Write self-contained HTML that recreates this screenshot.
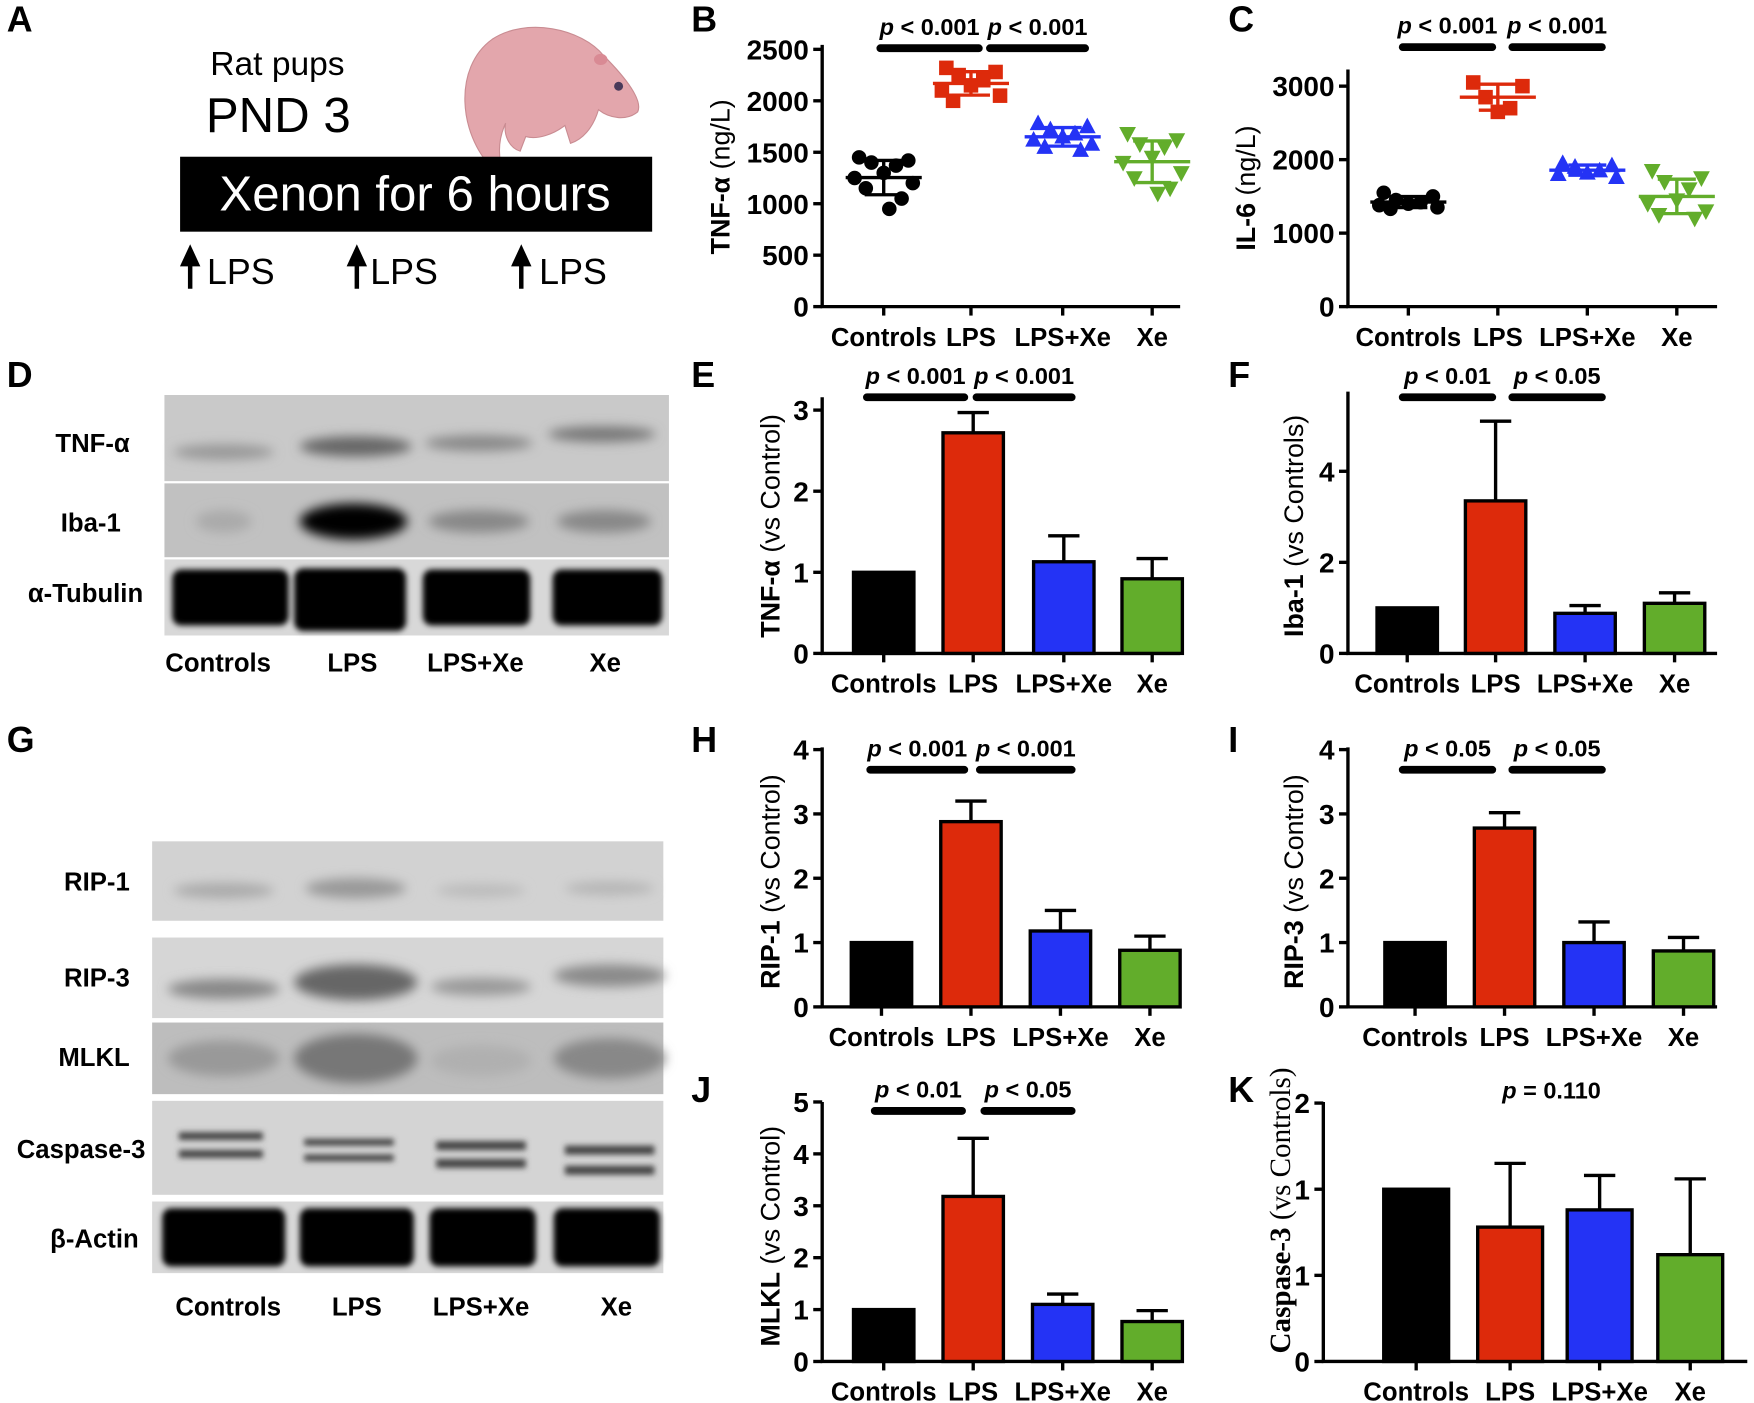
<!DOCTYPE html>
<html><head><meta charset="utf-8"><style>
html,body{margin:0;padding:0;background:#fff}
svg{display:block}
text{font-family:"Liberation Sans Narrow","Liberation Sans",sans-serif;font-weight:bold}
.n{font-weight:normal}
</style></head><body>
<svg id="fig" width="1754" height="1403" viewBox="0 0 1568 1254" xmlns="http://www.w3.org/2000/svg">
<defs>
<filter id="bl" x="-30%" y="-80%" width="160%" height="260%"><feGaussianBlur stdDeviation="5"/></filter>
<filter id="bl2" x="-30%" y="-80%" width="160%" height="260%"><feGaussianBlur stdDeviation="2.5"/></filter>
</defs>
<g>
<text x="6" y="28" font-size="32">A</text>
<text x="188" y="67" font-size="30" class="n">Rat pups</text>
<text x="184" y="118" font-size="44" class="n">PND 3</text>
<g>
<path d="M440,150 C410,120 405,60 440,35 C470,15 520,25 540,50 C560,70 575,90 570,100 C560,108 545,106 535,98 C530,115 520,125 510,128 L505,112 C495,120 480,125 470,122 L465,135 C455,132 450,120 452,110 C445,125 445,140 450,155 Z" fill="#e3a6ac" stroke="#c98c92" stroke-width="1"/>
<circle cx="553" cy="77" r="4" fill="#4a3a5a"/>
<ellipse cx="537" cy="53" rx="6" ry="5" fill="#d98a94"/>
</g>
<rect x="161" y="140" width="422" height="67" fill="#000"/>
<text x="371" y="188" font-size="44" fill="#fff" text-anchor="middle" class="n">Xenon for 6 hours</text>
<g font-size="32">
<path d="M170,258 V232 M164,236 L170,223 L176,236 Z" stroke="#000" stroke-width="4" fill="#000"/>
<text x="185" y="254" class="n">LPS</text>
<path d="M319,258 V232 M313,236 L319,223 L325,236 Z" stroke="#000" stroke-width="4" fill="#000"/>
<text x="331" y="254" class="n">LPS</text>
<path d="M466,258 V232 M460,236 L466,223 L472,236 Z" stroke="#000" stroke-width="4" fill="#000"/>
<text x="482" y="254" class="n">LPS</text>
</g>
</g>
<g>
<text x="6" y="346" font-size="32">D</text>
<rect x="147" y="353" width="451" height="77" fill="#c9c9c9"/>
<rect x="147" y="432" width="451" height="66" fill="#c1c1c1"/>
<rect x="147" y="500" width="451" height="68" fill="#d8d8d8"/>
<g filter="url(#bl)">
<ellipse cx="200" cy="404" rx="45" ry="7" fill="#999"/>
<ellipse cx="318" cy="399" rx="50" ry="9" fill="#666"/>
<ellipse cx="428" cy="396" rx="48" ry="7" fill="#888"/>
<ellipse cx="538" cy="388" rx="48" ry="7" fill="#777"/>
<ellipse cx="200" cy="466" rx="25" ry="10" fill="#aaa"/>
<ellipse cx="316" cy="466" rx="48" ry="16" fill="#000"/>
<ellipse cx="428" cy="466" rx="45" ry="10" fill="#888"/>
<ellipse cx="540" cy="466" rx="42" ry="10" fill="#888"/>
</g>
<g filter="url(#bl2)" fill="#050505">
<rect x="154" y="509" width="104" height="50" rx="8"/>
<rect x="263" y="508" width="100" height="56" rx="8"/>
<rect x="378" y="509" width="96" height="50" rx="8"/>
<rect x="494" y="509" width="98" height="50" rx="8"/>
</g>
<text x="116" y="404" font-size="23" text-anchor="end">TNF-α</text>
<text x="108" y="475" font-size="23" text-anchor="end">Iba-1</text>
<text x="128" y="538" font-size="23" text-anchor="end">α-Tubulin</text>
<g font-size="23" text-anchor="middle">
<text x="195" y="600">Controls</text><text x="315" y="600">LPS</text><text x="425" y="600">LPS+Xe</text><text x="541" y="600">Xe</text>
</g>
</g>
<g>
<text x="6" y="672" font-size="32">G</text>
<rect x="136" y="752" width="457" height="71" fill="#d2d2d2"/>
<rect x="136" y="838" width="457" height="72" fill="#d6d6d6"/>
<rect x="136" y="914" width="457" height="64" fill="#bdbdbd"/>
<rect x="136" y="984" width="457" height="84" fill="#d4d4d4"/>
<rect x="136" y="1074" width="457" height="64" fill="#d8d8d8"/>
<g filter="url(#bl)">
<ellipse cx="200" cy="796" rx="45" ry="7" fill="#aaa"/>
<ellipse cx="318" cy="794" rx="45" ry="9" fill="#999"/>
<ellipse cx="430" cy="796" rx="40" ry="6" fill="#bbb"/>
<ellipse cx="545" cy="794" rx="40" ry="6" fill="#b5b5b5"/>
<ellipse cx="200" cy="884" rx="50" ry="9" fill="#888"/>
<ellipse cx="318" cy="878" rx="55" ry="16" fill="#666"/>
<ellipse cx="430" cy="882" rx="45" ry="8" fill="#999"/>
<ellipse cx="545" cy="872" rx="50" ry="10" fill="#8a8a8a"/>
<ellipse cx="200" cy="946" rx="50" ry="16" fill="#999"/>
<ellipse cx="318" cy="946" rx="55" ry="22" fill="#777"/>
<ellipse cx="430" cy="948" rx="45" ry="14" fill="#b0b0b0"/>
<ellipse cx="545" cy="946" rx="50" ry="18" fill="#888"/>
</g>
<g filter="url(#bl2)" fill="#444">
<rect x="160" y="1012" width="75" height="7"/><rect x="160" y="1028" width="75" height="7"/>
<rect x="272" y="1018" width="80" height="6"/><rect x="272" y="1032" width="80" height="6"/>
<rect x="390" y="1020" width="80" height="8"/><rect x="390" y="1036" width="80" height="8"/>
<rect x="505" y="1024" width="80" height="8"/><rect x="505" y="1042" width="80" height="8"/>
</g>
<g filter="url(#bl2)" fill="#050505">
<rect x="145" y="1080" width="110" height="52" rx="8"/>
<rect x="268" y="1080" width="102" height="52" rx="8"/>
<rect x="384" y="1080" width="95" height="52" rx="8"/>
<rect x="495" y="1080" width="95" height="52" rx="8"/>
</g>
<g font-size="23" text-anchor="end">
<text x="116" y="796">RIP-1</text>
<text x="116" y="882">RIP-3</text>
<text x="116" y="953">MLKL</text>
<text x="130" y="1035">Caspase-3</text>
<text x="124" y="1115">β-Actin</text>
</g>
<g font-size="23" text-anchor="middle">
<text x="204" y="1176">Controls</text><text x="319" y="1176">LPS</text><text x="430" y="1176">LPS+Xe</text><text x="551" y="1176">Xe</text>
</g>
</g>
<g id="charts"></g>
</svg>
<script>
const categories = ["Controls","LPS","LPS+Xe","Xe"];
const colors = ["#000000","#dd2a0b","#2433f5","#62ad2b"];
const bControls = [1450,1420,1400,1370,1300,1250,1200,1150,1050,950];
const bLPS = [2320,2280,2250,2200,2150,2100,2050,2000];
const bLPSXe = [1780,1750,1720,1680,1650,1620,1580,1550,1520];
const bXe = [1680,1620,1580,1550,1450,1400,1300,1250,1150,1100];
const bTicks = [0,500,1000,1500,2000,2500];
const cControls = [1550,1500,1450,1420,1400,1380,1350,1330];
const cLPS = [3050,3000,2850,2700,2650];
const cLPSXe = [1950,1920,1900,1850,1820,1800,1760];
const cXe = [1850,1750,1700,1600,1450,1400,1300,1250,1200];
const cTicks = [0,1000,2000,3000];
const eMeans = [1.0,2.72,1.13,0.92]; const eErr = [1.0,2.97,1.45,1.17]; const eTicks=[0,1,2,3];
const fMeans = [1.0,3.35,0.88,1.1]; const fErr = [1.0,5.1,1.05,1.33]; const fTicks=[0,2,4];
const hMeans = [1.0,2.88,1.18,0.88]; const hErr = [1.0,3.2,1.5,1.1]; const hTicks=[0,1,2,3,4];
const iMeans = [1.0,2.78,1.0,0.87]; const iErr = [1.0,3.02,1.32,1.08]; const iTicks=[0,1,2,3,4];
const jMeans = [1.0,3.18,1.1,0.77]; const jErr = [1.0,4.3,1.3,0.98]; const jTicks=[0,1,2,3,4,5];
const kMeans = [1.0,0.78,0.88,0.62]; const kErr = [1.0,1.15,1.08,1.06]; const kTicks=[0,0.5,1,1.5]; const kTickLabels=["0","1","1","2"];

const NS="http://www.w3.org/2000/svg";
const root=document.getElementById('charts');
function mk(tag,attrs,parent){const e=document.createElementNS(NS,tag);for(const k in attrs)e.setAttribute(k,attrs[k]);(parent||root).appendChild(e);return e;}

function axes(g,cfg){
  const y=v=>cfg.y0-v*cfg.ppu;
  const ax=mk('path',{d:`M${cfg.x0},${cfg.top} V${cfg.y0} H${cfg.xEnd}`,stroke:'#000','stroke-width':3,fill:'none'},g);
  
  
  cfg.ticks.forEach((t,i)=>{
    mk('line',{x1:cfg.x0-8,x2:cfg.x0,y1:y(t),y2:y(t),stroke:'#000','stroke-width':3},g);
    const tl=mk('text',{x:cfg.x0-12,y:y(t)+9,'font-size':25,'text-anchor':'end'},g);
    tl.textContent=cfg.tickLabels?cfg.tickLabels[i]:String(t);
    
    
  });
  categories.forEach((c,i)=>{
    const x=cfg.cx[i];
    mk('line',{x1:x,x2:x,y1:cfg.y0,y2:cfg.y0+8,stroke:'#000','stroke-width':3},g);
    const t=mk('text',{x:x,y:cfg.y0+35,'font-size':23,'text-anchor':'middle'},g);
    t.textContent=c;
    
    
  });
  const yt=mk('text',{transform:`translate(${cfg.titleX},${cfg.titleY}) rotate(-90)`,'font-size':cfg.titleSize||24,'text-anchor':'middle'},g);
  
  
  if(cfg.serif){yt.setAttribute('style','font-family:"Liberation Serif",serif');}
  const s1=mk('tspan',{},yt);s1.textContent=cfg.title[0];
  const s2=mk('tspan',{class:'n'},yt);s2.textContent=cfg.title[1];
  const pl=mk('text',{x:cfg.labelX,y:cfg.labelY,'font-size':32},g);
  pl.textContent=cfg.label;
  
  
  (cfg.sig||[]).forEach(s=>{
    const ln=mk('line',{x1:s[0],x2:s[1],y1:cfg.sigY,y2:cfg.sigY,stroke:'#000','stroke-width':7,'stroke-linecap':'round'},g);
    
    
    const t=mk('text',{x:(s[0]+s[1])/2,y:cfg.sigY-12,'font-size':21,'text-anchor':'middle'},g);
    
    
    const a=mk('tspan',{'font-style':'italic'},t);a.textContent='p';
    const b=mk('tspan',{},t);b.textContent=' '+s[2];
  });
  return y;
}

function barChart(cfg,means,errs){
  const g=mk('g',{});
  
  
  const y=axes(g,cfg);
  const w=cfg.bw||54;
  means.forEach((m,i)=>{
    const x=cfg.cx[i];
    if(errs[i]>m){
      mk('path',{d:`M${x},${y(m)} V${y(errs[i])} M${x-14},${y(errs[i])} H${x+14}`,stroke:'#000','stroke-width':3,fill:'none'},g);
    }
    const r=mk('rect',{x:x-w/2,y:y(m),width:w,height:cfg.y0-y(m),fill:colors[i],stroke:'#000','stroke-width':3},g);
    
    
  });
}

function mean(a){return a.reduce((s,v)=>s+v,0)/a.length;}
function sd(a){const m=mean(a);return Math.sqrt(a.reduce((s,v)=>s+(v-m)*(v-m),0)/(a.length-1));}
function marker(g,shape,x,yy,c){
  let e;
  if(shape===0) e=mk('circle',{cx:x,cy:yy,r:6.5,fill:c},g);
  else if(shape===1) e=mk('rect',{x:x-6.5,y:yy-6.5,width:13,height:13,fill:c},g);
  else if(shape===2) e=mk('path',{d:`M${x},${yy-8} L${x+7.5},${yy+6} L${x-7.5},${yy+6} Z`,fill:c},g);
  else e=mk('path',{d:`M${x},${yy+8} L${x+7.5},${yy-6} L${x-7.5},${yy-6} Z`,fill:c},g);
  
  
}
function scatterChart(cfg,groups){
  const g=mk('g',{});
  
  
  const y=axes(g,cfg);
  const offs=[-22,22,-11,11,0,-26,26,-16,16,5];
  groups.forEach((arr,i)=>{
    const x=cfg.cx[i];
    arr.forEach((v,j)=>marker(g,i,x+offs[j%offs.length],y(v),colors[i]));
    const m=mean(arr),s=sd(arr);
    mk('path',{d:`M${x-34},${y(m)} H${x+34} M${x},${y(m+s)} V${y(m-s)} M${x-17},${y(m+s)} H${x+17} M${x-17},${y(m-s)} H${x+17}`,stroke:colors[i],'stroke-width':3,fill:'none'},g);
  });
}

scatterChart({id:'b',label:'B',labelX:618,labelY:28,x0:735,xEnd:1055,top:40,y0:274,ppu:0.092,ticks:bTicks,cx:[790,868,950,1030],
  title:['TNF-α',' (ng/L)'],titleX:652,titleY:158,sig:[[787,875,'< 0.001'],[885,970,'< 0.001']],sigY:43},[bControls,bLPS,bLPSXe,bXe]);
scatterChart({id:'c',label:'C',labelX:1098,labelY:28,x0:1205,xEnd:1535,top:62,y0:274,ppu:0.0657,ticks:cTicks,cx:[1259,1339,1419,1499],
  title:['IL-6',' (ng/L)'],titleX:1122,titleY:168,sig:[[1254,1334,'< 0.001'],[1352,1432,'< 0.001']],sigY:42},[cControls,cLPS,cLPSXe,cXe]);
barChart({id:'e',label:'E',labelX:618,labelY:346,x0:735,xEnd:1055,top:355,y0:584,ppu:72.5,ticks:eTicks,cx:[790,870,951,1030],
  title:['TNF-α',' (vs Control)'],titleX:697,titleY:470,sig:[[775,862,'< 0.001'],[873,958,'< 0.001']],sigY:355},eMeans,eErr);
barChart({id:'f',label:'F',labelX:1098,labelY:346,x0:1205,xEnd:1535,top:350,y0:584,ppu:40.7,ticks:fTicks,cx:[1258,1337,1417,1497],
  title:['Iba-1',' (vs Controls)'],titleX:1165,titleY:470,sig:[[1254,1334,'< 0.01'],[1352,1432,'< 0.05']],sigY:355},fMeans,fErr);
barChart({id:'h',label:'H',labelX:618,labelY:672,x0:735,xEnd:1055,top:668,y0:900,ppu:57.5,ticks:hTicks,cx:[788,868,948,1028],
  title:['RIP-1',' (vs Control)'],titleX:697,titleY:788,sig:[[778,862,'< 0.001'],[876,958,'< 0.001']],sigY:688},hMeans,hErr);
barChart({id:'i',label:'I',labelX:1098,labelY:672,x0:1205,xEnd:1535,top:668,y0:900,ppu:57.5,ticks:iTicks,cx:[1265,1345,1425,1505],
  title:['RIP-3',' (vs Control)'],titleX:1165,titleY:788,sig:[[1254,1334,'< 0.05'],[1352,1432,'< 0.05']],sigY:688},iMeans,iErr);
barChart({id:'j',label:'J',labelX:618,labelY:985,x0:735,xEnd:1055,top:985,y0:1217,ppu:46.4,ticks:jTicks,cx:[790,870,950,1030],
  title:['MLKL',' (vs Control)'],titleX:697,titleY:1105,sig:[[782,860,'< 0.01'],[880,958,'< 0.05']],sigY:993},jMeans,jErr);
barChart({id:'k',label:'K',labelX:1098,labelY:985,x0:1183,xEnd:1562,top:985,y0:1217,ppu:154,ticks:kTicks,tickLabels:kTickLabels,cx:[1266,1350,1430,1511],bw:58,
  title:['Caspase-3',' (vs Controls)'],titleX:1153,titleY:1082,serif:true,titleSize:26,sig:[],sigY:0},kMeans,kErr);
(function(){const t=mk('text',{x:1387,y:982,'font-size':21,'text-anchor':'middle'});


const a=mk('tspan',{'font-style':'italic'},t);a.textContent='p';const b=mk('tspan',{},t);b.textContent=' = 0.110';})();
</script>
</body></html>
